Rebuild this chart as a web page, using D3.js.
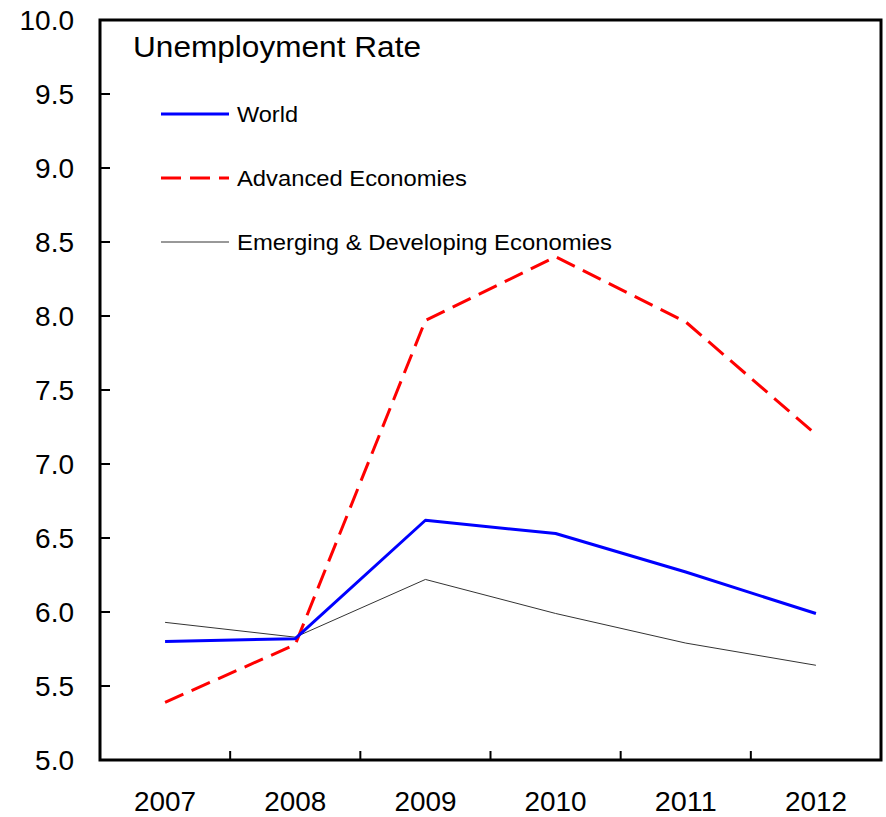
<!DOCTYPE html>
<html><head><meta charset="utf-8">
<script src="https://cdn.jsdelivr.net/npm/d3@7"></script>
<style>body{margin:0;background:#fff}svg{display:block}text{font-family:"Liberation Sans",Arial,sans-serif;fill:#000}</style>
</head><body>
<svg id="c" width="886" height="817"></svg>
<script>
const years = ["2007","2008","2009","2010","2011","2012"];
const world = [5.80, 5.82, 6.62, 6.53, 6.27, 5.99];
const advanced = [5.39, 5.78, 7.97, 8.40, 7.96, 7.20];
const emerging = [5.93, 5.83, 6.22, 5.99, 5.79, 5.64];
const yTicks = [5.0, 5.5, 6.0, 6.5, 7.0, 7.5, 8.0, 8.5, 9.0, 9.5, 10.0];
const title = "Unemployment Rate";
const seriesNames = ["World", "Advanced Economies", "Emerging & Developing Economies"];

const svg = d3.select("#c");
const L = 100, R = 881, T = 20, B = 760;
const x = d3.scaleBand().domain(years).range([L, R]);
const y = d3.scaleLinear().domain([5, 10]).range([B, T]);

// y tick labels
svg.append("g").selectAll("text").data(yTicks).join("text")
  .attr("x", 74).attr("y", d => y(d) + 9.5).attr("text-anchor", "end")
  .attr("font-size", 28).text(d => d.toFixed(1));
// y ticks inside
svg.append("g").selectAll("line").data(yTicks.filter(d => d > 5 && d < 10)).join("line")
  .attr("x1", L).attr("x2", L + 10).attr("y1", d => y(d)).attr("y2", d => y(d))
  .attr("stroke", "#000").attr("stroke-width", 2);
// x ticks at band boundaries
svg.append("g").selectAll("line").data(years.slice(1)).join("line")
  .attr("x1", d => x(d)).attr("x2", d => x(d)).attr("y1", B).attr("y2", B - 9)
  .attr("stroke", "#000").attr("stroke-width", 2);
// x labels
svg.append("g").selectAll("text").data(years).join("text")
  .attr("x", d => x(d) + x.bandwidth() / 2).attr("y", 811).attr("text-anchor", "middle")
  .attr("font-size", 27).attr("textLength", 62).attr("lengthAdjust", "spacingAndGlyphs").text(d => d);

// frame
svg.append("rect").attr("x", L).attr("y", T).attr("width", R - L).attr("height", B - T)
  .attr("fill", "none").attr("stroke", "#000").attr("stroke-width", 3);

const line = d3.line().x((d, i) => x(years[i]) + x.bandwidth() / 2).y(d => y(d));
const styles = [
  {data: world, color: "#0000ff", w: 3, dash: null, len: 61},
  {data: advanced, color: "#ff0000", w: 3, dash: "20,9", len: 230},
  {data: emerging, color: "#333333", w: 1, dash: null, len: 375}
];
[styles[2], styles[1], styles[0]].forEach(s => {
  svg.append("path").attr("d", line(s.data)).attr("fill", "none")
    .attr("stroke", s.color).attr("stroke-width", s.w)
    .attr("stroke-dasharray", s.dash).attr("stroke-linejoin", "round");
});

// title
svg.append("text").attr("x", 133).attr("y", 57).attr("font-size", 30)
  .attr("textLength", 288).attr("lengthAdjust", "spacingAndGlyphs").text(title);
// legend
const ly = [114, 178, 242];
styles.forEach((s, i) => {
  svg.append("line").attr("x1", 161).attr("x2", 229).attr("y1", ly[i]).attr("y2", ly[i])
    .attr("stroke", s.color).attr("stroke-width", s.w).attr("stroke-dasharray", s.dash);
  svg.append("text").attr("x", 237).attr("y", ly[i] + 8).attr("font-size", 22.5)
    .attr("textLength", s.len).attr("lengthAdjust", "spacingAndGlyphs").text(seriesNames[i]);
});
</script>
</body></html>
